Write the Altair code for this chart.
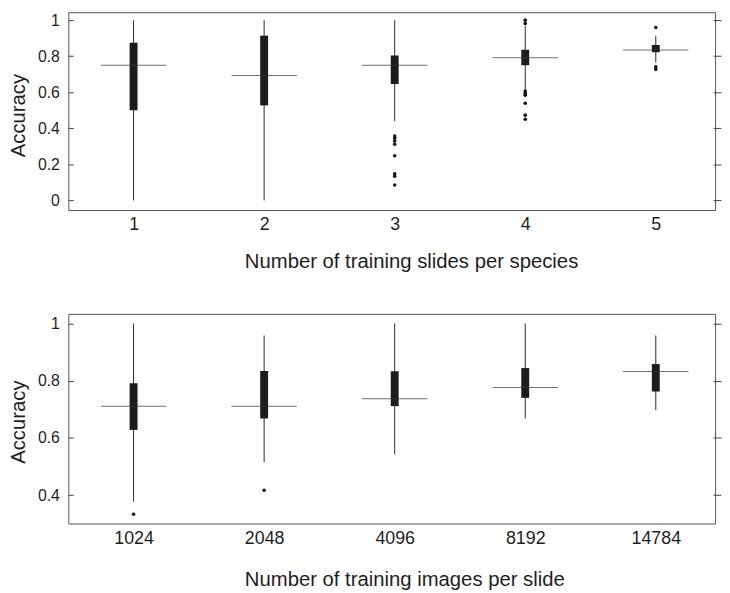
import altair as alt
import pandas as pd

# ---- top panel: Number of training slides per species ----
top_cats = ["1", "2", "3", "4", "5"]
top_lo = [0.0, 0.0, 0.44, 0.616, 0.765]
top_q1 = [0.50, 0.527, 0.646, 0.75, 0.822]
top_med = [0.75, 0.693, 0.75, 0.791, 0.834]
top_q3 = [0.875, 0.914, 0.804, 0.836, 0.862]
top_hi = [1.0, 1.0, 1.0, 0.97, 0.914]
top_out_cat = ["3"] * 8 + ["4"] * 8 + ["5"] * 3
top_out_val = [0.357, 0.345, 0.330, 0.312, 0.248, 0.148, 0.134, 0.086,
               1.0, 0.982, 0.607, 0.595, 0.584, 0.539, 0.473, 0.45,
               0.959, 0.741, 0.727]
top_ticks = [0, 0.2, 0.4, 0.6, 0.8, 1]

# ---- bottom panel: Number of training images per slide ----
bot_cats = ["1024", "2048", "4096", "8192", "14784"]
bot_lo = [0.377, 0.515, 0.543, 0.668, 0.697]
bot_q1 = [0.628, 0.668, 0.711, 0.740, 0.762]
bot_med = [0.711, 0.711, 0.737, 0.776, 0.832]
bot_q3 = [0.791, 0.834, 0.833, 0.844, 0.858]
bot_hi = [1.0, 0.958, 1.0, 1.0, 0.958]
bot_out_cat = ["1024", "2048"]
bot_out_val = [0.333, 0.417]
bot_ticks = [0.4, 0.6, 0.8, 1]

FONT = "Liberation Sans"
TXT = "#1e1e1e"
LINE = "#444444"


def panel(cats, lo, q1, med, q3, hi, out_cat, out_val, domain, ticks,
          height, ytitle_y, xtitle, xtitle_y):
    box = pd.DataFrame(dict(cat=cats, lo=lo, q1=q1, med=med, q3=q3, hi=hi))
    out = pd.DataFrame(dict(cat=out_cat, val=out_val))

    xenc = alt.X(
        "cat:N", sort=cats,
        scale=alt.Scale(type="point", padding=0.477, align=0.524),
        axis=alt.Axis(
            title=xtitle, labelAngle=0, ticks=False, tickSize=0, domain=False,
            grid=False, labelFontSize=18, labelPadding=6, labelColor=TXT,
            labelFont=FONT, titleFont=FONT, titleFontSize=20.5,
            titleFontWeight="normal", titleColor=TXT, titleX=178,
            titleY=xtitle_y, titleAlign="left", titleBaseline="alphabetic",
            titleAnchor="start",
        ),
    )
    yscale = alt.Scale(domain=domain, nice=False, zero=False)
    left_axis = alt.Axis(
        orient="left", values=ticks, format="~g", offset=-5, tickSize=5,
        tickColor=LINE, domain=False, grid=False, labelFontSize=16,
        labelPadding=9, labelColor=TXT, labelFont=FONT, title="Accuracy",
        titleFont=FONT, titleFontSize=20.5, titleFontWeight="normal",
        titleColor=TXT, titleX=-49, titleY=ytitle_y, titleAngle=270,
        titleBaseline="alphabetic", titleAlign="center",
    )
    right_axis = alt.Axis(
        orient="right", values=ticks, offset=-2, tickSize=8, tickColor=LINE,
        labels=False, domain=False, grid=False, title="",
    )

    whisk = alt.Chart(box).mark_rule(color="#2a2a2a", strokeWidth=1).encode(
        x=xenc, y=alt.Y("lo:Q", scale=yscale, axis=left_axis), y2="hi:Q")
    bars = alt.Chart(box).mark_bar(color="#1c1c1c", size=8).encode(
        x=xenc, y=alt.Y("q1:Q", scale=yscale, axis=None), y2="q3:Q")
    meds = alt.Chart(box).mark_tick(color="#333333", size=66, thickness=1).encode(
        x=xenc, y=alt.Y("med:Q", scale=yscale, axis=None))
    pts = alt.Chart(out).mark_circle(color="#111111", size=13, opacity=1).encode(
        x=xenc, y=alt.Y("val:Q", scale=yscale, axis=right_axis))

    return alt.layer(whisk, bars, meds, pts).resolve_axis(y="independent").properties(
        width=654, height=height)


top = panel(top_cats, top_lo, top_q1, top_med, top_q3, top_hi,
            top_out_cat, top_out_val, [-0.0532, 1.0439], top_ticks,
            200, 104, "Number of training slides per species", 58.4)
bot = panel(bot_cats, bot_lo, bot_q1, bot_med, bot_q3, bot_hi,
            bot_out_cat, bot_out_val, [0.3007, 1.0336], bot_ticks,
            212, 109, "Number of training images per slide", 63)

chart = (
    alt.vconcat(top, bot, spacing=40)
    .properties(padding=0)
    .configure(font=FONT, background="white")
    .configure_view(stroke="#555555", strokeWidth=1)
)

chart.save("out.html", embed_options={"renderer": "svg", "actions": False})
